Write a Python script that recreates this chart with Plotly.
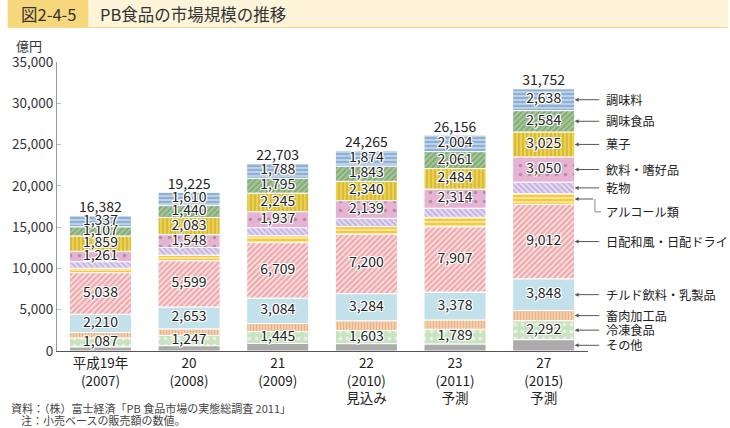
import numpy as np
import plotly.graph_objects as go

# ---------------- data ----------------
tick_labels = ["平成19年<br>(2007)", "20<br>(2008)", "21<br>(2009)",
               "22<br>(2010)<br>見込み", "23<br>(2011)<br>予測", "27<br>(2015)<br>予測"]
series_names = ["その他", "冷凍食品", "畜肉加工品", "チルド飲料・乳製品", "日配和風・日配ドライ",
                "アルコール類", "乾物", "飲料・嗜好品", "菓子", "調味食品", "調味料"]
sonota = [500, 650, 920, 890, 850, 1380]
reito = [1087, 1247, 1445, 1603, 1789, 2292]
chikuniku = [655, 781, 965, 1166, 1119, 1228]
chilled = [2210, 2653, 3084, 3284, 3378, 3848]
nippai = [5038, 5599, 6709, 7200, 7907, 9012]
alcohol = [530, 680, 835, 926, 1150, 1295]
kanbutsu = [798, 934, 980, 1000, 1100, 1400]
inryo = [1261, 1548, 1937, 2139, 2314, 3050]
kashi = [1859, 2083, 2245, 2340, 2484, 3025]
chomi_shokuhin = [1107, 1440, 1795, 1843, 2061, 2584]
chomiryo = [1337, 1610, 1788, 1874, 2004, 2638]
totals = [16382, 19225, 22703, 24265, 26156, 31752]

series_values = [sonota, reito, chikuniku, chilled, nippai, alcohol, kanbutsu,
                 inryo, kashi, chomi_shokuhin, chomiryo]
labeled = [False, True, False, True, True, False, False, True, True, True, True]

# ---------------- styles ----------------
styles = [
    dict(color="#ababab"),
    dict(color="#c8e3bf", pattern=dict(shape=".", fgcolor="#ffffff", bgcolor="#c8e3bf", size=7, solidity=0.25)),
    dict(color="#f2c49c", pattern=dict(shape="|", fgcolor="#dc8f58", bgcolor="#f6d2b2", size=3, solidity=0.45)),
    dict(color="#c3e1ea"),
    dict(color="#f7d2d2", pattern=dict(shape="/", fgcolor="#e36a72", bgcolor="#fbe4e4", size=4, solidity=0.55)),
    dict(color="#f9dc70", pattern=dict(shape="-", fgcolor="#eea400", bgcolor="#fbe58a", size=4, solidity=0.45)),
    dict(color="#d7c6ea", pattern=dict(shape="\\", fgcolor="#a088cc", bgcolor="#ebe0f5", size=4, solidity=0.55)),
    dict(color="#e6b4d2", pattern=dict(shape=".", fgcolor="#7d6878", bgcolor="#e6b4d2", size=9, solidity=0.12)),
    dict(color="#f1d23e", pattern=dict(shape="|", fgcolor="#8f8466", bgcolor="#f1d23e", size=4, solidity=0.3)),
    dict(color="#a6c698", pattern=dict(shape="/", fgcolor="#55844f", bgcolor="#a6c698", size=4, solidity=0.4)),
    dict(color="#92b3d8", pattern=dict(shape="-", fgcolor="#ffffff", bgcolor="#8fb0d6", size=4, solidity=0.4)),
]

FONT = "Noto Sans CJK JP"
SHADOW = "1px 1px 0 #fff, -1px -1px 0 #fff, 1px -1px 0 #fff, -1px 1px 0 #fff, 0 1px 0 #fff, 0 -1px 0 #fff, 1px 0 0 #fff, -1px 0 0 #fff"

x = np.arange(len(tick_labels))
BW = 0.7
YMAX = 35000

fig = go.Figure()
base = np.zeros(len(x))
label_x, label_y, label_t = [], [], []
mids = []
for name, vals, st, lab in zip(series_names, series_values, styles, labeled):
    v = np.array(vals, dtype=float)
    marker = dict(color=st["color"], line=dict(color="#ffffff", width=1))
    if "pattern" in st:
        marker["pattern"] = st["pattern"]
    fig.add_trace(go.Bar(x=x, y=v, base=base, width=BW, name=name, marker=marker,
                         hoverinfo="name+y"))
    mid = base + v / 2
    mids.append(mid)
    if lab:
        label_x += list(x)
        label_y += list(mid)
        label_t += [f"{int(a):,}" for a in vals]
    base = base + v

fig.add_trace(go.Scatter(x=label_x, y=label_y, text=label_t, mode="text",
                         textfont=dict(family=FONT, size=14, color="#222", shadow=SHADOW),
                         hoverinfo="skip"))
fig.add_trace(go.Scatter(x=x, y=totals, text=[f"{t:,}" for t in totals], mode="text",
                         textposition="top center",
                         textfont=dict(family=FONT, size=14, color="#222"),
                         hoverinfo="skip"))

# ---------------- layout geometry ----------------
L, R, T, B = 50, 142, 62, 77
W, H = 730, 428
pw, ph = W - L - R, H - T - B
def px2x(p):
    return (p - L) / pw
def py2y(p):
    return (H - B - p) / ph

shapes = [
    dict(type="rect", xref="paper", yref="paper", x0=px2x(0), x1=px2x(82), y0=py2y(27), y1=py2y(0),
         fillcolor="#f6d77c", line=dict(width=0), layer="below"),
    dict(type="rect", xref="paper", yref="paper", x0=px2x(82), x1=px2x(730), y0=py2y(27), y1=py2y(0),
         fillcolor="#fdf4d9", line=dict(width=0), layer="below"),
    dict(type="line", xref="paper", yref="paper", x0=px2x(0), x1=px2x(730), y0=py2y(27.5), y1=py2y(27.5),
         line=dict(color="#f2d98c", width=1)),
]

annotations = [
    dict(text="図2-4-5", xref="paper", yref="paper", x=px2x(41), y=py2y(14), showarrow=False,
         font=dict(family=FONT, size=16.5, color="#333"), xanchor="center", yanchor="middle"),
    dict(text="PB食品の市場規模の推移", xref="paper", yref="paper", x=px2x(92), y=py2y(14), showarrow=False,
         font=dict(family=FONT, size=16.5, color="#333"), xanchor="left", yanchor="middle"),
    dict(text="億円", xref="paper", yref="paper", x=px2x(22), y=py2y(45), showarrow=False,
         font=dict(family=FONT, size=13, color="#333"), xanchor="center", yanchor="middle"),
    dict(text="資料：（株）富士経済「PB 食品市場の実態総調査 2011」", xref="paper", yref="paper",
         x=px2x(1), y=py2y(408), showarrow=False, xanchor="left", yanchor="middle",
         font=dict(family=FONT, size=11, color="#444")),
    dict(text="注：小売ベースの販売額の数値。", xref="paper", yref="paper",
         x=px2x(12), y=py2y(420), showarrow=False, xanchor="left", yanchor="middle",
         font=dict(family=FONT, size=11, color="#444")),
]

# right-side labels with leader arrows (last bar)
last = len(x) - 1
edge = last + BW / 2
TAIL_PX = 26          # leader length in pixels
TEXT_PX = 604         # label left edge, pixels
LABEL_SIZE = 12.2
alc_idx = series_names.index("アルコール類")
for i, name in enumerate(series_names):
    m = mids[i][last]
    if i == alc_idx:
        continue
    annotations.append(dict(x=edge, y=m, ax=TAIL_PX, ay=0, text="",
                            showarrow=True, arrowhead=2, arrowsize=0.8, arrowwidth=1,
                            arrowcolor="#555"))
    annotations.append(dict(xref="paper", yref="y", x=px2x(TEXT_PX), y=m, text=name, showarrow=False,
                            xanchor="left", yanchor="middle",
                            font=dict(family=FONT, size=LABEL_SIZE, color="#222")))
# alcohol: elbow leader
m = mids[alc_idx][last]
ELBOW_PX = 595
alc_label_y = 16850
annotations.append(dict(x=edge, y=m, ax=20, ay=0, text="",
                        showarrow=True, arrowhead=2, arrowsize=0.8, arrowwidth=1, arrowcolor="#555"))
shapes.append(dict(type="path", xref="paper", yref="paper",
                   path=(f"M {px2x(ELBOW_PX)},{m / YMAX} L {px2x(ELBOW_PX)},{alc_label_y / YMAX} "
                         f"L {px2x(601)},{alc_label_y / YMAX}"),
                   line=dict(color="#888", width=1)))
annotations.append(dict(xref="paper", yref="y", x=px2x(TEXT_PX), y=alc_label_y, text="アルコール類",
                        showarrow=False, xanchor="left", yanchor="middle",
                        font=dict(family=FONT, size=LABEL_SIZE, color="#222")))

fig.update_layout(
    width=W, height=H, margin=dict(l=L, r=R, t=T, b=B),
    barmode="overlay", showlegend=False,
    plot_bgcolor="white", paper_bgcolor="white",
    font=dict(family=FONT, size=13, color="#333"),
    shapes=shapes, annotations=annotations,
    xaxis=dict(range=[-0.49, 5.5], tickmode="array", tickvals=list(x), ticktext=tick_labels,
               showline=True, linecolor="#555", linewidth=1, ticks="", showgrid=False, zeroline=False,
               tickfont=dict(family=FONT, size=13.5, color="#222")),
    yaxis=dict(range=[0, YMAX], tickvals=list(range(0, YMAX + 1, 5000)),
               ticktext=[f"{v:,}" for v in range(0, YMAX + 1, 5000)],
               showline=True, linecolor="#999", linewidth=1, ticks="inside", ticklen=4,
               tickcolor="#bbb", showgrid=False, zeroline=False,
               tickfont=dict(family=FONT, size=13.5, color="#333")),
)

fig.write_html("out.html", config={"displayModeBar": False},
               post_script="document.body.style.margin='0';document.body.style.padding='0';"
                           "document.body.style.overflow='hidden';")
